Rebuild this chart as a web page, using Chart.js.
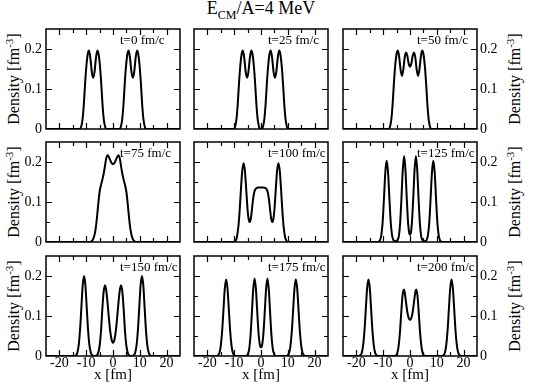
<!DOCTYPE html>
<html><head><meta charset="utf-8">
<script src="https://cdn.jsdelivr.net/npm/chart.js@4.4.1/dist/chart.umd.min.js"></script>
<style>
html,body{margin:0;padding:0;background:#fff;}
#wrap{position:relative;width:550px;height:388px;overflow:hidden;font-family:'Liberation Serif',serif;color:#000;}
canvas{position:absolute;left:0;top:0;}
.ttl{position:absolute;left:0;top:-1px;width:522px;text-align:center;font-size:18px;line-height:18px;white-space:nowrap;}
.ylab{position:absolute;font-size:16px;line-height:18px;white-space:nowrap;transform:translate(-50%,-50%) rotate(-90deg);}
sup{font-size:11px;vertical-align:6px;line-height:0;}
sub{font-size:12px;vertical-align:-5px;line-height:0;}
</style></head><body>
<div id="wrap">
 <div class="ttl">E<sub>CM</sub>/A=4 MeV</div>
</div>
<script>
const tLabels = ['t=0 fm/c','t=25 fm/c','t=50 fm/c','t=75 fm/c','t=100 fm/c','t=125 fm/c','t=150 fm/c','t=175 fm/c','t=200 fm/c'];
const xTickMajor = [-20, -10, 0, 10, 20];
const yTickMajor = [0, 0.1, 0.2];
const yTitle = 'Density [fm';
const yTitleSup = '-3';
const xTitle = 'x [fm]';

const x0 = [-25, -12.4, -11.9, -11.4, -10.9, -10.4, -9.9, -9.4, -8.95, -8.4, -7.9, -7.4, -6.9, -6.4, -5.85, -5.4, -4.9, -4.4, -3.9, -3.4, -2.9, -2.4, 2.4, 2.9, 3.4, 3.9, 4.4, 4.9, 5.4, 5.85, 6.4, 6.9, 7.4, 7.9, 8.4, 8.95, 9.4, 9.9, 10.4, 10.9, 11.4, 11.9, 12.4, 25];
const y0 = [0, 0, 0.005, 0.022, 0.06, 0.115, 0.16, 0.188, 0.196, 0.175, 0.142, 0.128, 0.142, 0.175, 0.196, 0.188, 0.16, 0.115, 0.06, 0.022, 0.005, 0, 0, 0.005, 0.022, 0.06, 0.115, 0.16, 0.188, 0.196, 0.175, 0.142, 0.128, 0.142, 0.175, 0.196, 0.188, 0.16, 0.115, 0.06, 0.022, 0.005, 0, 0];

const x25 = [-25, -10.2, -9.7, -9.2, -8.7, -8.2, -7.7, -7.2, -6.75, -6.2, -5.7, -5.2, -4.7, -4.2, -3.65, -3.2, -2.7, -2.2, -1.7, -1.2, -0.7, -0.2, 0.2, 0.7, 1.2, 1.7, 2.2, 2.7, 3.2, 3.65, 4.2, 4.7, 5.2, 5.7, 6.2, 6.75, 7.2, 7.7, 8.2, 8.7, 9.2, 9.7, 10.2, 25];
const y25 = [0, 0, 0.005, 0.022, 0.06, 0.115, 0.16, 0.188, 0.196, 0.175, 0.142, 0.128, 0.142, 0.175, 0.196, 0.188, 0.16, 0.115, 0.06, 0.022, 0.005, 0, 0, 0.005, 0.022, 0.06, 0.115, 0.16, 0.188, 0.196, 0.175, 0.142, 0.128, 0.142, 0.175, 0.196, 0.188, 0.16, 0.115, 0.06, 0.022, 0.005, 0, 0];

const x50 = [-25, -8, -7.5, -7, -6.5, -6, -5.5, -5, -4.5, -4, -3.5, -3, -2.5, -2, -1.5, -1, -0.5, 0, 0.5, 1, 1.5, 2, 2.5, 3, 3.5, 4, 4.5, 5, 5.5, 6, 6.5, 7, 7.5, 8, 25];
const y50 = [0, 0, 0.005, 0.022, 0.06, 0.115, 0.16, 0.188, 0.196, 0.178, 0.148, 0.133, 0.148, 0.178, 0.191, 0.183, 0.164, 0.156, 0.164, 0.183, 0.191, 0.178, 0.148, 0.133, 0.148, 0.178, 0.196, 0.188, 0.16, 0.115, 0.06, 0.022, 0.005, 0, 0];

const x75 = [-25, -8.5, -8, -7.5, -7, -6.5, -6, -5.5, -5, -4.5, -4, -3.5, -3, -2.5, -2, -1.5, -1, -0.5, 0, 0.5, 1, 1.5, 2, 2.5, 3, 3.5, 4, 4.5, 5, 5.5, 6, 6.5, 7, 7.5, 8, 8.5, 25];
const y75 = [0, 0, 0.002, 0.006, 0.015, 0.032, 0.06, 0.095, 0.125, 0.142, 0.155, 0.17, 0.19, 0.21, 0.217, 0.212, 0.204, 0.197, 0.195, 0.197, 0.204, 0.212, 0.217, 0.21, 0.19, 0.17, 0.155, 0.142, 0.125, 0.095, 0.06, 0.032, 0.015, 0.006, 0.002, 0, 0];

const x100 = [-25, -10, -9.5, -9, -8.5, -8, -7.5, -7, -6.5, -6, -5.5, -5, -4.6, -4.2, -3.8, -3.4, -3, -2.5, -2, -1, 0, 1, 2, 2.5, 3, 3.4, 3.8, 4.2, 4.6, 5, 5.5, 6, 6.5, 7, 7.5, 8, 8.5, 9, 9.5, 10, 25];
const y100 = [0, 0, 0.003, 0.012, 0.035, 0.075, 0.13, 0.178, 0.197, 0.178, 0.13, 0.08, 0.057, 0.05, 0.058, 0.08, 0.105, 0.125, 0.133, 0.136, 0.136, 0.136, 0.133, 0.125, 0.105, 0.08, 0.058, 0.05, 0.057, 0.08, 0.13, 0.178, 0.197, 0.178, 0.13, 0.075, 0.035, 0.012, 0.003, 0, 0];

const x125 = [-25, -12.2, -11.7, -11.2, -10.7, -10.2, -9.7, -9.2, -8.7, -8.2, -7.7, -7.2, -6.7, -6.2, -5.4, -4.7, -4.2, -3.7, -3.2, -2.7, -2.2, -1.7, -1.2, -0.7, -0.3, 0, 0.3, 0.7, 1.2, 1.7, 2.2, 2.7, 3.2, 3.7, 4.2, 4.7, 5.4, 6.2, 6.7, 7.2, 7.7, 8.2, 8.7, 9.2, 9.7, 10.2, 10.7, 11.2, 11.7, 12.2, 25];
const y125 = [0, 0, 0.001, 0.004, 0.017, 0.05, 0.111, 0.175, 0.203, 0.175, 0.111, 0.05, 0.017, 0.005, 0.002, 0.004, 0.013, 0.045, 0.108, 0.18, 0.215, 0.18, 0.108, 0.047, 0.022, 0.018, 0.022, 0.047, 0.108, 0.18, 0.215, 0.18, 0.108, 0.045, 0.013, 0.004, 0.002, 0.005, 0.017, 0.05, 0.111, 0.175, 0.203, 0.175, 0.111, 0.05, 0.017, 0.004, 0.001, 0, 0];

const x150 = [-25, -14.3, -13.8, -13.3, -12.8, -12.3, -11.8, -11.3, -10.8, -10.3, -9.8, -9.3, -8.8, -8.3, -7.8, -7.2, -6.5, -6, -5.5, -5, -4.5, -4, -3.5, -3, -2.5, -2, -1.5, -1, -0.5, 0, 0.5, 1, 1.5, 2, 2.5, 3, 3.5, 4, 4.5, 5, 5.5, 6, 6.5, 7.2, 7.8, 8.3, 8.8, 9.3, 9.8, 10.3, 10.8, 11.3, 11.8, 12.3, 12.8, 13.3, 13.8, 14.3, 25];
const y150 = [0, 0, 0.002, 0.009, 0.027, 0.065, 0.121, 0.177, 0.2, 0.177, 0.121, 0.065, 0.027, 0.009, 0.002, 0, 0, 0.002, 0.008, 0.025, 0.06, 0.115, 0.16, 0.177, 0.163, 0.13, 0.092, 0.06, 0.04, 0.033, 0.04, 0.06, 0.092, 0.13, 0.163, 0.177, 0.16, 0.115, 0.06, 0.025, 0.008, 0.002, 0, 0, 0.002, 0.009, 0.027, 0.065, 0.121, 0.177, 0.2, 0.177, 0.121, 0.065, 0.027, 0.009, 0.002, 0, 0];

const x175 = [-25, -16.5, -16, -15.5, -15, -14.5, -14, -13.5, -13, -12.5, -12, -11.5, -11, -10.5, -10, -9.5, -5.4, -4.9, -4.4, -3.9, -3.4, -2.9, -2.4, -1.9, -1.4, -0.9, -0.4, 0, 0.4, 0.9, 1.4, 1.9, 2.4, 2.9, 3.4, 3.9, 4.4, 4.9, 5.4, 9.5, 10, 10.5, 11, 11.5, 12, 12.5, 13, 13.5, 14, 14.5, 15, 15.5, 16, 16.5, 25];
const y175 = [0, 0, 0.002, 0.008, 0.026, 0.062, 0.116, 0.169, 0.191, 0.169, 0.116, 0.062, 0.026, 0.008, 0.002, 0, 0, 0.005, 0.018, 0.052, 0.108, 0.167, 0.194, 0.168, 0.11, 0.056, 0.027, 0.022, 0.027, 0.056, 0.11, 0.168, 0.194, 0.167, 0.108, 0.052, 0.018, 0.005, 0, 0, 0.002, 0.008, 0.026, 0.062, 0.116, 0.169, 0.191, 0.169, 0.116, 0.062, 0.026, 0.008, 0.002, 0, 0];

const x200 = [-25, -19, -18.5, -18, -17.5, -17, -16.5, -16, -15.5, -15, -14.5, -14, -13.5, -13, -12.5, -12, -5.8, -5.3, -4.8, -4.3, -3.8, -3.3, -2.8, -2.3, -2, -1.5, -1, -0.5, 0, 0.5, 1, 1.5, 2, 2.3, 2.8, 3.3, 3.8, 4.3, 4.8, 5.3, 5.8, 12, 12.5, 13, 13.5, 14, 14.5, 15, 15.5, 16, 16.5, 17, 17.5, 18, 18.5, 19, 25];
const y200 = [0, 0, 0.002, 0.008, 0.026, 0.062, 0.116, 0.169, 0.191, 0.169, 0.116, 0.062, 0.026, 0.008, 0.002, 0, 0, 0.001, 0.006, 0.022, 0.055, 0.105, 0.15, 0.166, 0.16, 0.135, 0.11, 0.095, 0.09, 0.095, 0.11, 0.135, 0.16, 0.166, 0.15, 0.105, 0.055, 0.022, 0.006, 0.001, 0, 0, 0.002, 0.008, 0.026, 0.062, 0.116, 0.169, 0.191, 0.169, 0.116, 0.062, 0.026, 0.008, 0.002, 0, 0];

const XS = [x0, x25, x50, x75, x100, x125, x150, x175, x200];
const YS = [y0, y25, y50, y75, y100, y125, y150, y175, y200];

const W = 550, H = 388;
const colL = [46, 194, 343], colR = [180, 328, 477];
const rowT = [29, 142, 256], rowB = [129, 242, 356];
const FONT = "'Liberation Serif', 'Times New Roman', serif";

const wrap = document.getElementById('wrap');

for (let r = 0; r < 3; r++) {
  const cy = (rowT[r] + rowB[r]) / 2;
  [14, 515].forEach(cx => {
    const d = document.createElement('div');
    d.className = 'ylab';
    d.style.left = cx + 'px';
    d.style.top = cy + 'px';
    d.innerHTML = yTitle + '<sup>' + yTitleSup + '</sup>]';
    wrap.appendChild(d);
  });
}

const isMajor = (v, list) => list.some(m => Math.abs(m - v) < 1e-6);

const frameTicks = {
  id: 'frameTicks',
  afterDraw(chart, args, opts) {
    const {ctx, chartArea: a} = chart;
    const sx = chart.scales.x, sy = chart.scales.y;
    ctx.save();
    ctx.strokeStyle = '#000';
    ctx.lineWidth = 1.2;
    ctx.beginPath();
    sx.ticks.forEach(t => {
      if (t.value <= sx.min + 1e-9 || t.value >= sx.max - 1e-9) return;
      const p = Math.round(sx.getPixelForValue(t.value)) + 0.5;
      const len = isMajor(t.value, xTickMajor) ? 6 : 4;
      ctx.moveTo(p, a.bottom); ctx.lineTo(p, a.bottom - len);
      ctx.moveTo(p, a.top); ctx.lineTo(p, a.top + len);
    });
    sy.ticks.forEach(t => {
      if (t.value <= sy.min + 1e-9 || t.value >= sy.max - 1e-9) return;
      const p = Math.round(sy.getPixelForValue(t.value)) + 0.5;
      const len = isMajor(t.value, yTickMajor) ? 6 : 4;
      ctx.moveTo(a.left, p); ctx.lineTo(a.left + len, p);
      ctx.moveTo(a.right, p); ctx.lineTo(a.right - len, p);
    });
    ctx.stroke();
    ctx.lineWidth = 1.5;
    ctx.strokeRect(a.left, a.top, a.right - a.left, a.bottom - a.top);
    ctx.fillStyle = '#000';
    ctx.font = '13px ' + FONT;
    ctx.textBaseline = 'middle';
    ctx.textAlign = 'left';
    ctx.fillText(opts.text, a.left + 74, a.top + 11.5);
    ctx.restore();
  }
};

for (let i = 0; i < 9; i++) {
  const r = Math.floor(i / 3), c = i % 3;
  const cv = document.createElement('canvas');
  cv.width = W; cv.height = H;
  cv.style.width = W + 'px'; cv.style.height = H + 'px';
  wrap.appendChild(cv);
  const yW = c === 1 ? 0 : 22;
  const xH = r === 2 ? 32 : 0;
  const pad = {
    left: c === 2 ? colL[c] : colL[c] - yW,
    right: c === 2 ? W - colR[c] - yW : W - colR[c],
    top: rowT[r],
    bottom: H - rowB[r] - xH
  };
  new Chart(cv, {
    type: 'line',
    data: {
      datasets: [{
        data: XS[i].map((v, k) => ({x: v, y: YS[i][k]})),
        borderColor: '#000', borderWidth: 2, pointRadius: 0, fill: false,
        cubicInterpolationMode: 'monotone'
      }]
    },
    options: {
      responsive: false, animation: false, devicePixelRatio: 1,
      layout: {padding: pad},
      plugins: {legend: {display: false}, tooltip: {enabled: false}, frameTicks: {text: tLabels[i]}},
      scales: {
        x: {
          type: 'linear', min: -25, max: 25, position: 'bottom',
          grid: {display: false, drawTicks: false}, border: {display: false},
          ticks: {
            display: r === 2, stepSize: 5, autoSkip: false, maxRotation: 0, minRotation: 0,
            padding: 0, color: '#000', font: {family: FONT, size: 14, lineHeight: 1},
            callback: (v) => isMajor(v, xTickMajor) ? String(v) : ''
          },
          title: {display: r === 2, text: xTitle, color: '#000', font: {family: FONT, size: 15}, padding: {top: 0, bottom: 4}},
          afterFit: (s) => { s.height = xH; }
        },
        y: {
          type: 'linear', min: 0, max: 0.25, position: c === 2 ? 'right' : 'left',
          grid: {display: false, drawTicks: false}, border: {display: false},
          ticks: {
            display: c !== 1, stepSize: 0.05, autoSkip: false, padding: c === 2 ? 3 : 4,
            color: '#000', font: {family: FONT, size: 14},
            callback: (v) => isMajor(v, yTickMajor) ? String(Math.round(v * 10) / 10) : ''
          },
          afterFit: (s) => { s.width = yW; }
        }
      }
    },
    plugins: [frameTicks]
  });
}
</script>
</body></html>
